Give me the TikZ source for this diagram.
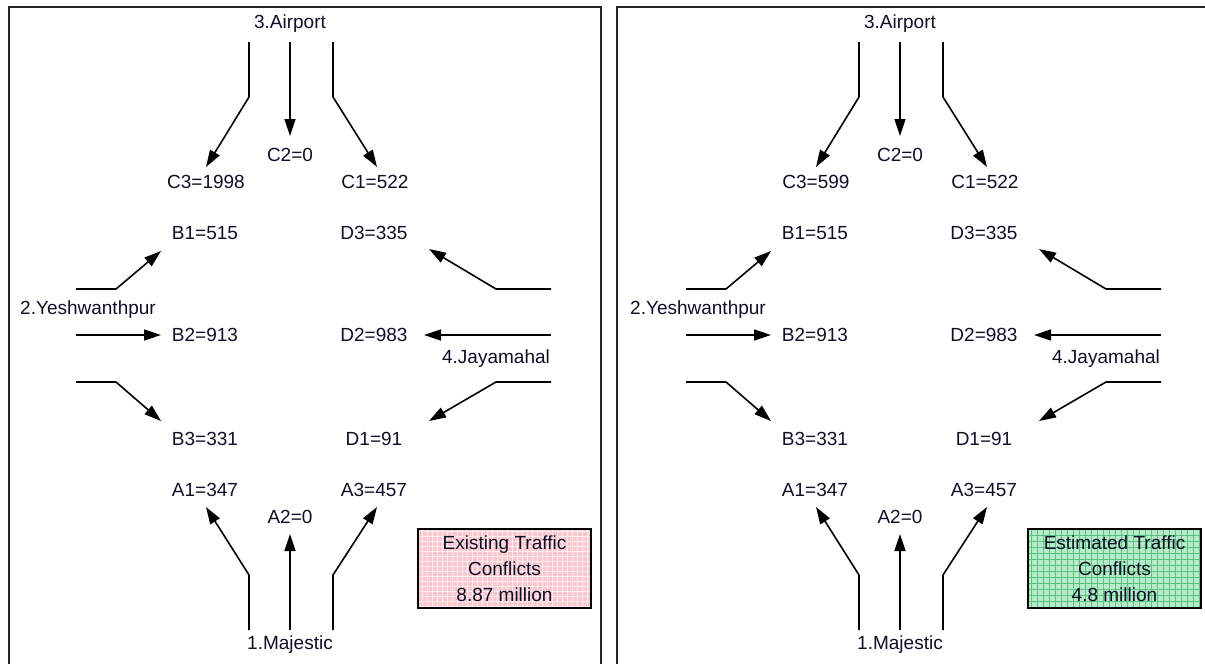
\documentclass[tikz,border=0pt]{standalone}
\usepackage{fontspec}
\setmainfont{Liberation Sans}
\usetikzlibrary{arrows.meta}
\definecolor{pinkfill}{RGB}{248,200,204}
\definecolor{pinkgrid}{RGB}{255,236,238}
\definecolor{greenfill}{RGB}{182,234,200}
\definecolor{greengrid}{RGB}{90,195,130}
\definecolor{txt}{RGB}{15,15,40}
\tikzset{
  lbl/.style={inner sep=0pt, text=txt, font=\fontsize{19}{22}\selectfont},
  arr/.style={line width=1.6pt, -{Triangle[length=17pt,width=11pt]}},
  panelframe/.style={line width=2pt, black!85},
  conflictbox/.style={minimum width=172pt, minimum height=79pt,
    align=center, inner sep=0pt, text=txt, font=\fontsize{19}{26}\selectfont},
  pinkbox/.style={conflictbox, fill=pinkfill,
    path picture={\draw[pinkgrid, line width=1pt, step=5pt]
      (path picture bounding box.south west) grid (path picture bounding box.north east);}},
  greenbox/.style={conflictbox, fill=greenfill,
    path picture={\draw[greengrid, line width=0.7pt, step=6pt]
      (path picture bounding box.south west) grid (path picture bounding box.north east);}},
  boxedge/.style={draw=black, line width=2pt},
}
% #1 xshift, #2 prefix, #3 C3 value, #4 box style, #5 first line, #6 third line
\newcommand\trafficpanel[6]{%
\begin{scope}[xshift=#1]
  % labels
  \node[lbl] (#2air) at (290,24) {3.Airport};
  \node[lbl] (#2C3) at (206,182) {C3=#3};
  \node[lbl] (#2C2) at (290,155) {C2=0};
  \node[lbl] (#2C1) at (375,182) {C1=522};
  \node[lbl] (#2B1) at (205,233) {B1=515};
  \node[lbl] (#2D3) at (374,233) {D3=335};
  \node[lbl] (#2yes) at (88,310) {2.Yeshwanthpur};
  \node[lbl] (#2B2) at (205,335) {B2=913};
  \node[lbl] (#2D2) at (374,335) {D2=983};
  \node[lbl] (#2jay) at (496,359) {4.Jayamahal};
  \node[lbl] (#2B3) at (205,439) {B3=331};
  \node[lbl] (#2D1) at (374,439) {D1=91};
  \node[lbl] (#2A1) at (205,490) {A1=347};
  \node[lbl] (#2A3) at (374,490) {A3=457};
  \node[lbl] (#2A2) at (290,517) {A2=0};
  \node[lbl] (#2maj) at (290,645) {1.Majestic};
  \node[#4] (#2box) at (504.5,568.5) {#5\\Conflicts\\#6};
  \draw[boxedge] (#2box.north west) rectangle (#2box.south east);
  % airport arrows
  \coordinate (#2a1) at (249,42); \coordinate (#2a2) at (249,97); \coordinate (#2a3) at (206,167);
  \coordinate (#2m1) at (290,42); \coordinate (#2m2) at (290,136);
  \coordinate (#2r1) at (333,42); \coordinate (#2r2) at (333,97); \coordinate (#2r3) at (377,167);
  \draw[arr] (#2a1) -- (#2a2) -- (#2a3);
  \draw[arr] (#2m1) -- (#2m2);
  \draw[arr] (#2r1) -- (#2r2) -- (#2r3);
  % yeshwanthpur arrows
  \coordinate (#2yt1) at (76,289); \coordinate (#2yt2) at (116,289); \coordinate (#2yt3) at (161,251);
  \coordinate (#2ym1) at (76,335); \coordinate (#2ym2) at (161,335);
  \coordinate (#2yb1) at (76,382); \coordinate (#2yb2) at (116,382); \coordinate (#2yb3) at (161,421);
  \draw[arr] (#2yt1) -- (#2yt2) -- (#2yt3);
  \draw[arr] (#2ym1) -- (#2ym2);
  \draw[line width=2.6pt] (#2yb1) -- (#2yb2);
  \draw[arr] (#2yb2) -- (#2yb3);
  % jayamahal arrows
  \coordinate (#2jt1) at (551,289); \coordinate (#2jt2) at (496,289); \coordinate (#2jt3) at (429,249);
  \coordinate (#2jm1) at (551,335); \coordinate (#2jm2) at (424,335);
  \coordinate (#2jb1) at (551,382); \coordinate (#2jb2) at (496,382); \coordinate (#2jb3) at (429,421);
  \draw[arr] (#2jt1) -- (#2jt2) -- (#2jt3);
  \draw[arr] (#2jm1) -- (#2jm2);
  \draw[arr] (#2jb1) -- (#2jb2) -- (#2jb3);
  % majestic arrows
  \coordinate (#2l1) at (249,630); \coordinate (#2l2) at (249,575); \coordinate (#2l3) at (206,507);
  \coordinate (#2n1) at (290,630); \coordinate (#2n2) at (290,534);
  \coordinate (#2s1) at (333,630); \coordinate (#2s2) at (333,575); \coordinate (#2s3) at (377,507);
  \draw[arr] (#2l1) -- (#2l2) -- (#2l3);
  \draw[arr] (#2n1) -- (#2n2);
  \draw[arr] (#2s1) -- (#2s2) -- (#2s3);
\end{scope}}
\begin{document}
\begin{tikzpicture}[x=1pt, y=-1pt]
  \useasboundingbox[fill=white] (0,0) rectangle (1205,664);
  \draw[panelframe] (8.5,664) -- (8.5,7) -- (601,7) -- (601,664);
  \draw[panelframe] (617,664) -- (617,7) -- (1205,7);
  \trafficpanel{0pt}{L}{1998}{pinkbox}{Existing Traffic}{8.87 million}
  \trafficpanel{610pt}{R}{599}{greenbox}{Estimated Traffic}{4.8 million}
\end{tikzpicture}
\end{document}
